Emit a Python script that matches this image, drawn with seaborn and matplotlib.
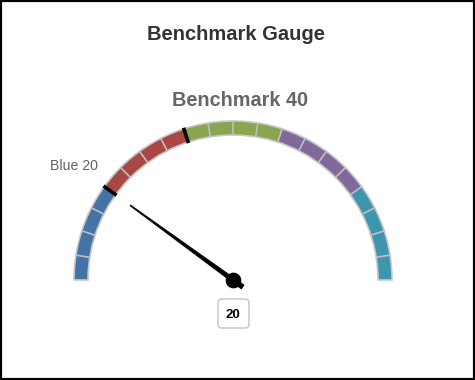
import numpy as np
import pandas as pd
import matplotlib
matplotlib.use("Agg")
import matplotlib.pyplot as plt
from matplotlib.patches import Wedge, Polygon, FancyBboxPatch
import seaborn as sns

# ---- data ----
band_starts = [0, 20, 40, 60, 80]
band_ends = [20, 40, 60, 80, 100]
band_colors = ["#4572A7", "#AA4643", "#89A54E", "#80699B", "#3D96AE"]
tick_values = list(range(5, 100, 5))
benchmark_values = [20, 40]
gauge_value = 20
title_text = "Benchmark Gauge"
subtitle_text = "Benchmark 40"
band_label = "Blue 20"
gauge_min, gauge_max = 0, 100

sns.set_theme(style="white")
plt.rcParams["font.family"] = ["Liberation Sans", "DejaVu Sans"]

W, H = 475, 380
fig = plt.figure(figsize=(W / 100, H / 100), dpi=100)
ax = fig.add_axes([0, 0, 1, 1])
ax.set_xlim(0, W)
ax.set_ylim(0, H)
ax.set_aspect("auto")
ax.set_xticks([])
ax.set_yticks([])
for s in ax.spines.values():
    s.set_visible(True)
    s.set_color("black")
    s.set_linewidth(3)

cx, cy = 233, H - 280
r_out, band_w = 159, 14
r_in = r_out - band_w


def ang(v):
    return 180.0 - (v - gauge_min) / (gauge_max - gauge_min) * 180.0


# bands
for a, b, c in zip(band_starts, band_ends, band_colors):
    ax.add_patch(Wedge((cx, cy), r_out, ang(b), ang(a), width=band_w,
                       facecolor=c, edgecolor="none", zorder=2))
# outline
ax.add_patch(Wedge((cx, cy), r_out, 0, 180, width=band_w, fill=False,
                   edgecolor="#c8c8c8", lw=1.2, zorder=3))
# minor ticks
for v in tick_values:
    t = np.deg2rad(ang(v))
    ax.plot([cx + r_in * np.cos(t), cx + r_out * np.cos(t)],
            [cy + r_in * np.sin(t), cy + r_out * np.sin(t)],
            color="#c0c0c0", lw=1.2, zorder=3, solid_capstyle="butt")
# benchmark markers
for v in benchmark_values:
    t = np.deg2rad(ang(v))
    ax.plot([cx + (r_in - 1) * np.cos(t), cx + (r_out + 1) * np.cos(t)],
            [cy + (r_in - 1) * np.sin(t), cy + (r_out + 1) * np.sin(t)],
            color="black", lw=2.6, zorder=4, solid_capstyle="butt")

# needle
t = np.deg2rad(ang(gauge_value))
u = np.array([np.cos(t), np.sin(t)])
n = np.array([-u[1], u[0]])
c0 = np.array([cx, cy])
tip = c0 + u * 127
base = c0 - u * 12
pts = [tip + n * 0.5, base + n * 2.4, base - n * 2.4, tip - n * 0.5]
ax.add_patch(Polygon(pts, closed=True, facecolor="black", edgecolor="black",
                     lw=0.5, zorder=5))
pivot = pd.DataFrame({"x": [cx], "y": [cy]})
sns.scatterplot(data=pivot, x="x", y="y", s=110, color="black",
                edgecolor="black", ax=ax, zorder=6, legend=False)
ax.set_xlabel("")
ax.set_ylabel("")

# value box
bx, by, bw, bh = 218, H - 328, 31, 29
ax.add_patch(FancyBboxPatch((bx, by), bw, bh,
                            boxstyle="round,pad=0,rounding_size=4",
                            facecolor="white", edgecolor="#cccccc", lw=1.2,
                            zorder=5))
ax.text(bx + bw / 2 - 1, by + bh / 2 - 1.5, str(gauge_value), ha="center",
        va="center", fontsize=9.5, fontweight="bold", color="black", zorder=6)

# texts
ax.text(236, H - 35, title_text, ha="center", va="center", fontsize=14.5,
        fontweight="bold", color="#333333")
ax.text(240.5, H - 100.5, subtitle_text, ha="center", va="center",
        fontsize=14.3, fontweight="bold", color="#666666")
ax.text(74, H - 165.5, band_label, ha="center", va="center", fontsize=10.2,
        color="#606060")

fig.savefig("out.png", dpi=100)
